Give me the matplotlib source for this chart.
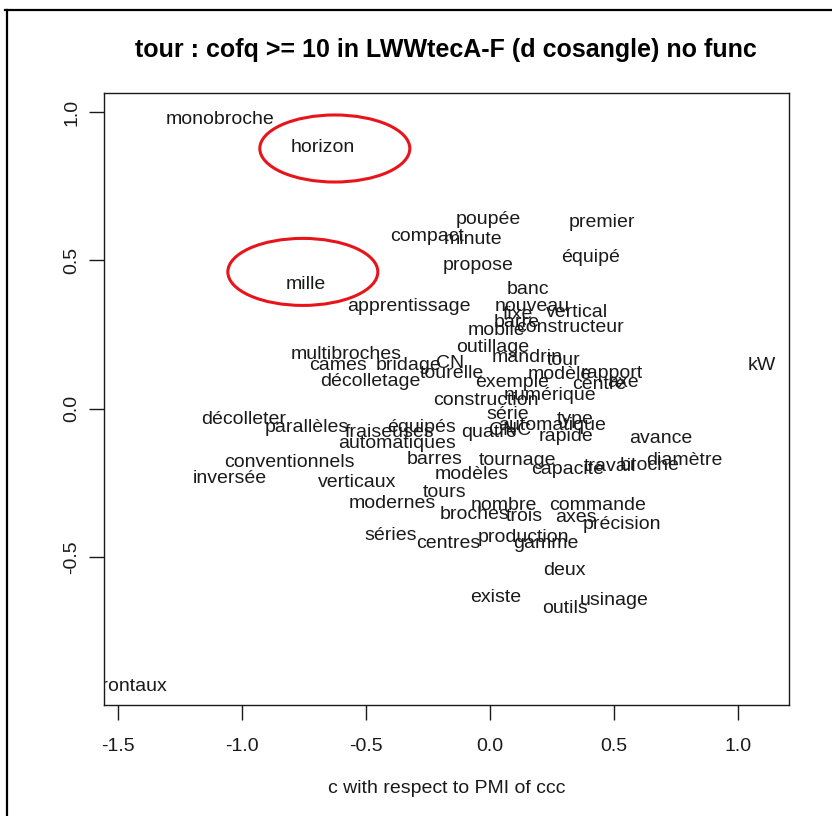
import matplotlib
matplotlib.use("Agg")
import matplotlib.pyplot as plt
from matplotlib.patches import Ellipse
from matplotlib.lines import Line2D

plt.rcParams['font.family'] = ['Liberation Sans', 'DejaVu Sans']

# word coordinates
words = ["monobroche", "horizon", "compact", "poupée", "minute", "premier", "équipé",
         "propose", "banc", "apprentissage", "nouveau", "fixe", "vertical", "barre",
         "mobile", "constructeur", "outillage", "mandrin", "tour", "modèle", "rapport",
         "centre", "axe", "exemple", "numérique", "construction", "tourelle", "CN",
         "bridage", "cames", "multibroches", "décolletage", "décolleter", "parallèles",
         "fraiseuses", "équipés", "automatiques", "quatre", "série", "type",
         "automatique", "rapide", "CNC", "avance", "diamètre", "broche", "travail",
         "capacité", "tournage", "barres", "modèles", "tours", "nombre", "commande",
         "broches", "trois", "axes", "précision", "production", "gamme", "centres",
         "séries", "modernes", "verticaux", "conventionnels", "inversée", "deux",
         "existe", "outils", "usinage", "frontaux", "kW", "mille"]
xs = [-1.089, -0.673, -0.254, -0.004, -0.069, 0.452, 0.407,
      -0.048, 0.153, -0.327, 0.173, 0.113, 0.351, 0.109,
      0.028, 0.323, 0.012, 0.149, 0.298, 0.282, 0.492,
      0.440, 0.536, 0.089, 0.242, -0.016, -0.153, -0.161,
      -0.327, -0.613, -0.581, -0.480, -0.992, -0.738,
      -0.403, -0.274, -0.375, -0.004, 0.073, 0.343,
      0.250, 0.306, 0.081, 0.690, 0.786, 0.645, 0.484,
      0.315, 0.113, -0.222, -0.073, -0.181, 0.056, 0.435,
      -0.060, 0.141, 0.347, 0.532, 0.137, 0.226, -0.169,
      -0.399, -0.395, -0.536, -0.810, -1.048, 0.302,
      0.024, 0.302, 0.500, -1.444, 1.097, -0.742]
ys = [0.976, 0.879, 0.582, 0.637, 0.569, 0.629, 0.511,
      0.484, 0.403, 0.346, 0.343, 0.316, 0.323, 0.289,
      0.262, 0.275, 0.205, 0.174, 0.164, 0.114, 0.120,
      0.080, 0.087, 0.087, 0.046, 0.026, 0.120, 0.151,
      0.147, 0.147, 0.181, 0.090, -0.038, -0.062,
      -0.079, -0.062, -0.116, -0.082, -0.018, -0.038,
      -0.058, -0.095, -0.072, -0.102, -0.176, -0.190, -0.196,
      -0.206, -0.176, -0.170, -0.223, -0.284, -0.328, -0.328,
      -0.358, -0.365, -0.368, -0.389, -0.433, -0.453, -0.453,
      -0.426, -0.318, -0.250, -0.180, -0.234, -0.544,
      -0.635, -0.672, -0.645, -0.935, 0.144, 0.420]

# highlighted words
circled = [(-0.625, 0.877), (-0.754, 0.461)]
circle_w = 0.605
circle_h = 0.226

xticks = [-1.5, -1.0, -0.5, 0.0, 0.5, 1.0]
yticks = [-0.5, 0.0, 0.5, 1.0]

fig = plt.figure(figsize=(8.32, 8.16), dpi=100)
ax = fig.add_axes([0.125, 0.136, 0.823, 0.750])

for w, x, y in zip(words, xs, ys):
    ax.text(x, y, w, ha='center', va='center', fontsize=14, color='#1a1a1a', clip_on=True)

for cx, cy in circled:
    ax.add_patch(Ellipse((cx, cy), circle_w, circle_h, fill=False, edgecolor='#e8141b', lw=2.2))

ax.set_xlim(-1.556, 1.206)
ax.set_ylim(-0.999, 1.064)
ax.set_xticks(xticks)
ax.set_xticklabels([f"{t:.1f}" for t in xticks])
ax.set_yticks(yticks)
ax.set_yticklabels([f"{t:.1f}" for t in yticks], rotation=90, va='center')
ax.tick_params(axis='x', length=11, width=1, pad=13, labelsize=14, colors='#1a1a1a')
ax.tick_params(axis='y', length=11, width=1, pad=6, labelsize=14, colors='#1a1a1a')
for s in ax.spines.values():
    s.set_linewidth(1)
    s.set_color('#1a1a1a')

ax.set_title("tour : cofq >= 10 in LWWtecA-F (d cosangle) no func",
             fontsize=18, fontweight='bold', pad=26)
ax.set_xlabel("c with respect to PMI of ccc", fontsize=14, labelpad=18, color='#1a1a1a')

# frame lines along the top and left edge
fig.add_artist(Line2D([0.006, 1.0], [0.988, 0.988], color='black', lw=1.6))
fig.add_artist(Line2D([0.009, 0.009], [0.0, 0.988], color='black', lw=1.6))

fig.savefig("out.png", dpi=100)
